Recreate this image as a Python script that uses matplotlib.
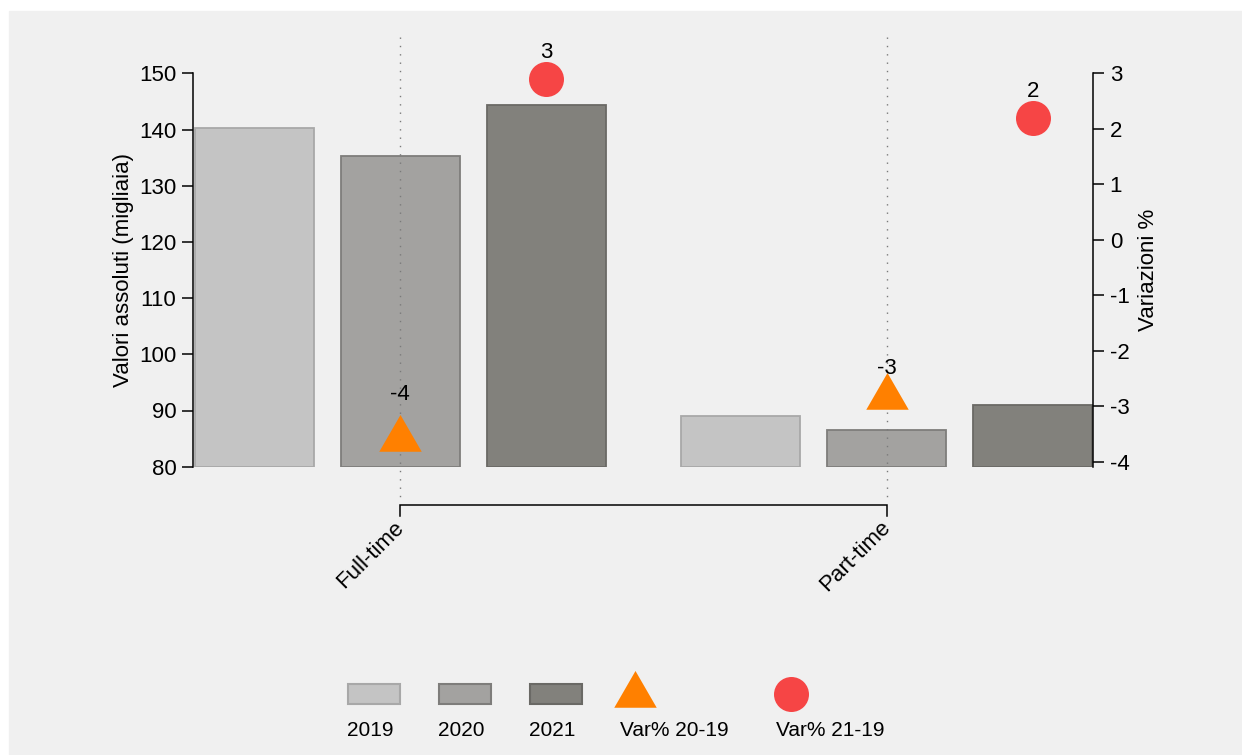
import matplotlib
matplotlib.use("Agg")
import matplotlib.pyplot as plt
from matplotlib.patches import Rectangle
from matplotlib.transforms import blended_transform_factory

plt.rcParams['font.family'] = ['Liberation Sans', 'DejaVu Sans']
plt.rcParams['axes.unicode_minus'] = False

# ---- data ----
categories = ['Full-time', 'Part-time']
years = ['2019', '2020', '2021']
val_2019 = [140.3, 89.0]
val_2020 = [135.2, 86.5]
val_2021 = [144.4, 91.0]
var_20_19 = [-3.59, -2.84]
var_21_19 = [2.9, 2.2]
left_ticks = [80, 90, 100, 110, 120, 130, 140, 150]
right_ticks = [-4, -3, -2, -1, 0, 1, 2, 3]

# ---- style ----
bar_fill = ['#c4c4c4', '#a3a2a0', '#82817c']
bar_edge = ['#a8a8a8', '#7e7d7b', '#6a6965']
orange = '#ff8000'
red = '#f64545'
panel = '#f0f0f0'
W, H = 1242, 755

fig = plt.figure(figsize=(W / 100, H / 100), dpi=100, facecolor='white')
fig.patches.append(Rectangle((9 / W, 0), 1 - 9 / W, 1 - 11 / H,
                             transform=fig.transFigure, color=panel, zorder=-10))

ax_left, ax_right, ax_top, ax_bot = 193, 1093, 73.3, 466.7
ax = fig.add_axes([ax_left / W, 1 - ax_bot / H, (ax_right - ax_left) / W,
                   (ax_bot - ax_top) / H])
ax.set_facecolor('none')
ax2 = ax.twinx()
ax2.set_facecolor('none')

group_gap = 10 / 3
bar_w = 0.815
group_x = [i * group_gap for i in range(len(categories))]
cat_x = [g + 1 for g in group_x]

base = 80
for k, vals in enumerate([val_2019, val_2020, val_2021]):
    xs = [g + k for g in group_x]
    ax.bar(xs, [v - base for v in vals], bottom=base, width=bar_w,
           color=bar_fill[k], edgecolor=bar_edge[k], linewidth=1.3, zorder=2,
           label=years[k])

ax.set_ylim(base, 150)
ax.set_yticks(left_ticks)
ax.set_xlim(-bar_w / 2 - 0.013, group_x[-1] + 2 + bar_w / 2 + 0.005)
ax.set_xticks([])
ax2.set_ylim(-4.09, 3)
ax2.set_yticks(right_ticks)

for a in (ax, ax2):
    for s in ('top', 'bottom'):
        a.spines[s].set_visible(False)
    a.tick_params(axis='y', labelsize=16, length=8, width=1.1, pad=4)
ax.spines['left'].set_linewidth(1.1)
ax2.spines['right'].set_linewidth(1.1)
ax.spines['right'].set_visible(False)
ax2.spines['left'].set_visible(False)

ax.set_ylabel('Valori assoluti (migliaia)', fontsize=16, labelpad=4)
ax2.set_ylabel('Variazioni %', fontsize=16, labelpad=6)

# dotted guides and category bracket
tr = blended_transform_factory(ax.transData, ax.transAxes)
for cx in cat_x:
    ax.plot([cx, cx], [1.092, -0.085], transform=tr, color='#7a7a7a',
            linestyle=(0, (1, 5)), linewidth=1, clip_on=False, zorder=2.5)
ax.plot([cat_x[0], cat_x[0], cat_x[-1], cat_x[-1]],
        [-0.126, -0.0975, -0.0975, -0.126], transform=tr, color='black',
        linewidth=1.1, clip_on=False, solid_joinstyle='miter')
for cx, name in zip(cat_x, categories):
    ax.text(cx, -0.147, name, transform=tr, rotation=45, fontsize=16,
            ha='right', va='center', rotation_mode='anchor')

# percentage change markers
ax2.plot(cat_x, var_20_19, linestyle='none', marker=(3, 0, 0), markersize=35.3,
         color=orange, markeredgewidth=0, zorder=3, clip_on=False)
ax2.plot([g + 2 for g in group_x], var_21_19, linestyle='none', marker='o',
         markersize=25.2, color=red, markeredgewidth=0, zorder=3, clip_on=False)
tri_offsets = [32, 21]
for cx, v, off in zip(cat_x, var_20_19, tri_offsets):
    ax2.annotate(f'{v:.0f}', (cx, v), xytext=(0, off), textcoords='offset points',
                 ha='center', va='center', fontsize=16, annotation_clip=False)
for cx, v in zip([g + 2 for g in group_x], var_21_19):
    ax2.annotate(f'{v:.0f}', (cx, v), xytext=(0, 18.7), textcoords='offset points',
                 ha='center', va='center', fontsize=16, annotation_clip=False)

# legend row
lax = fig.add_axes([0, 0, 1, 1])
lax.set_xlim(0, W)
lax.set_ylim(H, 0)
lax.axis('off')
lax.set_facecolor('none')
leg_labels = years + ['Var% 20-19', 'Var% 21-19']
patch_left = [348, 439, 530]
for k in range(3):
    lax.add_patch(Rectangle((patch_left[k], 684), 52, 20, facecolor=bar_fill[k],
                            edgecolor=bar_edge[k], linewidth=1.5))
lax.plot([635], [694.5], marker=(3, 0, 0), markersize=35.3, color=orange,
         markeredgewidth=0)
lax.plot([790.7], [694.3], marker='o', markersize=25.2, color=red,
         markeredgewidth=0)
label_left = [347, 438, 529, 620, 776]
for x0, lab in zip(label_left, leg_labels):
    lax.text(x0, 731, lab, fontsize=15, ha='left', va='center')

fig.savefig('out.png', dpi=100, facecolor=fig.get_facecolor())
